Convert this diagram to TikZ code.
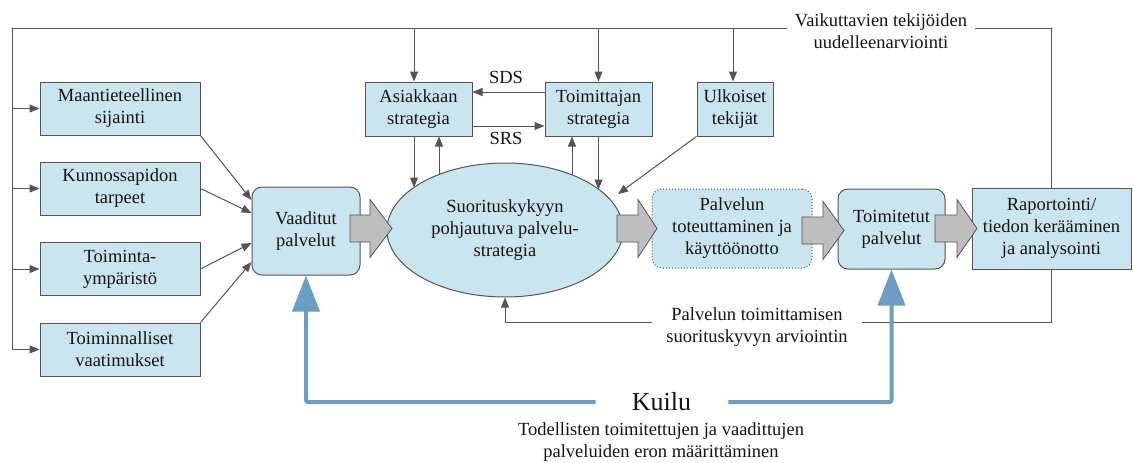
\documentclass[tikz,border=0pt]{standalone}
\usepackage{fontspec}
\newfontfamily\diafont{Liberation Serif}
\usetikzlibrary{arrows.meta,shapes.geometric,calc}
\definecolor{boxfill}{RGB}{201,230,240}
\definecolor{edge}{RGB}{85,85,85}
\definecolor{gapblue}{RGB}{108,158,196}
\definecolor{arrowgray}{RGB}{190,190,190}
\definecolor{txt}{RGB}{20,20,20}
\begin{document}
\begin{tikzpicture}[x=1pt,y=-1pt,
  every node/.style={text=txt, font=\diafont\fontsize{18.5}{22}\selectfont, align=center, inner sep=0pt},
  box/.style={draw=edge, fill=boxfill, line width=1pt},
  rbox/.style={box, rounded corners=10pt},
  conn/.style={draw=edge, line width=1pt},
  arr/.style={conn, -{Triangle[length=10pt,width=8pt]}},
  gaparr/.style={draw=gapblue, line width=4pt, rounded corners=2pt, -{Triangle[length=36pt,width=27pt]}},
  garrow/.style={draw=edge, fill=arrowgray, line width=0.8pt, line join=miter}
]
\useasboundingbox (0,0) rectangle (1133,463);

% left boxes
\node[box, minimum width=160pt, minimum height=53pt] (m1) at (120,108.5) {Maantieteellinen\\sijainti};
\node[box, minimum width=160pt, minimum height=53pt] (m2) at (120,188.5) {Kunnossapidon\\tarpeet};
\node[box, minimum width=160pt, minimum height=53pt] (m3) at (120,269) {Toiminta-\\ympäristö};
\node[box, minimum width=160pt, minimum height=53pt] (m4) at (120,349.5) {Toiminnalliset\\vaatimukset};

% main chain
\node[rbox, minimum width=108pt, minimum height=88pt] (vaad) at (306,231) {Vaaditut\\palvelut};
\node[ellipse, box, minimum width=236pt, minimum height=134pt] (ell) at (505,230) {Suorituskykyyn\\pohjautuva palvelu-\\strategia};
\node[rbox, dotted, minimum width=160pt, minimum height=79pt] (pal) at (732,228.5) {Palvelun\\toteuttaminen ja\\käyttöönotto};
\node[rbox, minimum width=107pt, minimum height=80pt] (tmt) at (891.5,229) {Toimitetut\\palvelut};
\node[box, minimum width=159pt, minimum height=81pt] (rap) at (1051.5,228.5) {Raportointi/\\tiedon kerääminen\\ja analysointi};

% strategy boxes
\node[box, minimum width=107pt, minimum height=54pt] (asi) at (418.5,109) {Asiakkaan\\strategia};
\node[box, minimum width=107pt, minimum height=54pt] (toi) at (598.5,109) {Toimittajan\\strategia};
\node[box, minimum width=76pt, minimum height=54pt] (ulk) at (735,109) {Ulkoiset\\tekijät};

% labels
\node (vai) at (881,31.5) {Vaikuttavien tekijöiden\\uudelleenarviointi};
\node (sds) at (506,77) {SDS};
\node (srs) at (506,138) {SRS};
\node (pt) at (757,327) {Palvelun toimittamisen\\suorituskyvyn arviointin};
\node[font=\diafont\fontsize{26}{30}\selectfont] (kuilu) at (661.5,402) {Kuilu};
\node (tod) at (661,442) {Todellisten toimitettujen ja vaadittujen\\palveluiden eron määrittäminen};

% top feedback line
\coordinate (tlL) at (12,28);
\coordinate (tlR) at (787,28);
\coordinate (trL) at (975,28);
\draw[conn] (tlR) -- (tlL) -- (tlL |- m4.west);
\draw[conn] (rap.north) |- (trL);
\foreach \b in {m1,m2,m3,m4} \draw[arr] (tlL |- \b.west) -- (\b.west);
\coordinate (ta) at (414,28);
\coordinate (tb) at (598.5,28);
\coordinate (tc) at (733,28);
\draw[arr] (ta) -- (ta |- asi.north);
\draw[arr] (tb) -- (toi.north);
\draw[arr] (tc) -- (tc |- ulk.north);

% left boxes -> Vaaditut
\draw[arr] (m1.south east) -- ([yshift=31pt]vaad.west);
\draw[arr] (m2.east) -- ([yshift=18pt]vaad.west);
\draw[arr] (m3.east) -- ([yshift=-12pt]vaad.west);
\draw[arr] (m4.north east) -- ([yshift=-31pt]vaad.west);

% SDS / SRS
\draw[arr] ([yshift=17pt]toi.west) -- ([yshift=17pt]asi.east);
\draw[arr] ([yshift=-17pt]asi.east) -- ([yshift=-17pt]toi.west);

% strategies <-> ellipse
\coordinate (e1) at (414,187.5);
\coordinate (e2) at (439,174.5);
\coordinate (e3) at (572,175);
\coordinate (e4) at (598.5,189.5);
\coordinate (e5) at (618,194);
\draw[arr] (e1 |- asi.south) -- (e1);
\draw[arr] (e2) -- (e2 |- asi.south);
\draw[arr] (e3) -- (e3 |- toi.south);
\draw[arr] (toi.south) -- (e4);
\draw[arr] (ulk.south west) -- (e5);

% bottom feedback
\coordinate (fbR) at (862,322);
\coordinate (fbL) at (652,322);
\draw[conn] (rap.south) |- (fbR);
\draw[arr] (fbL) -| (ell.south);

% gap arrows
\draw[gaparr] ([xshift=-36pt]kuilu.west) -| (vaad.south);
\draw[gaparr] ([xshift=37pt]kuilu.east) -| (tmt.south);

% grey block arrows
\foreach \a/\b/\c/\y in {350/370/392/228.5,617/638/657/228.5,802/823/844/230.5,935/957/977/228.5}
  \draw[garrow] (\a,\y-13.5) -- (\b,\y-13.5) -- (\b,\y-29) -- (\c,\y) -- (\b,\y+29) -- (\b,\y+13.5) -- (\a,\y+13.5) -- cycle;
\end{tikzpicture}
\end{document}
